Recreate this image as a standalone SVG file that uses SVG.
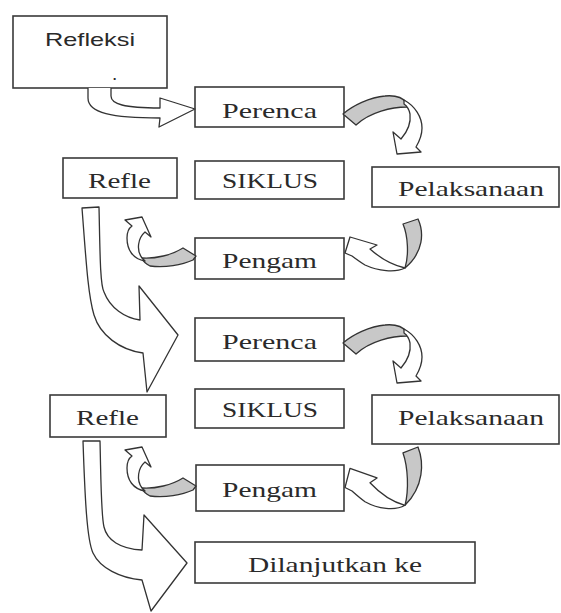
<svg xmlns="http://www.w3.org/2000/svg" width="561" height="613" viewBox="0 0 561 613">
<style>
.box{fill:#fff;stroke:#3a3a3a;stroke-width:1.6}
.t{font-family:"Liberation Serif","Times New Roman",serif;font-size:22px;fill:#2a2a2a}
.s{font-family:"Liberation Sans",Arial,sans-serif;font-size:19px;fill:#2a2a2a}
.ar{fill:#fff;stroke:#333;stroke-width:1.3;stroke-linejoin:round;vector-effect:non-scaling-stroke}
.gr{fill:#c8c8c8;stroke:#333;stroke-width:1.3;stroke-linejoin:round;vector-effect:non-scaling-stroke}
</style>
<defs>
<g id="curveA">
<path class="gr" d="M343,114 C352,106 370,97 385,96 C395,95 403,98 407,103 L407,107 C392,107 370,112 356,125 Z"/>
<path class="ar" d="M404,100 C415,106 422,117 422,128 C422,136 419,142 416,147 L421,152 L397,154 L393,132 L401,139 C408,131 411,122 410,114 C409,109 407,106 404,104 Z"/>
</g>
<g id="curveB">
<path class="gr" d="M403,224 L418,219 C424,232 424,252 405,268 C409,255 408,236 403,224 Z"/>
<path class="ar" d="M345,253 L350,237 L377,245 L370,249 C380,258 392,265 405,268 C395,273 378,271 365,265 C360,262 356,259 352,256 Z"/>
</g>
<g id="curveC">
<path class="gr" d="M183,248 L196,256 L193,260 C182,265 165,268 150,266 C146,264 143,261 142,258 C155,259 172,255 183,248 Z"/>
<path class="ar" d="M125,220 L142,217 L151,237 L145,232 C138,238 136,250 142,258 L145,261 C133,259 127,250 127,238 C127,232 129,228 132,226 Z"/>
</g>
</defs>
<g id="n-refleksi">
<rect class="box" x="13" y="16" width="154" height="72"/>
<text class="s" x="45" y="46" textLength="90" lengthAdjust="spacingAndGlyphs">Refleksi</text>
<text class="s" x="112" y="80" font-size="10">.</text>
</g>
<g id="n-perenca1">
<rect class="box" x="195" y="87" width="149" height="40"/>
<text class="t" x="222" y="118" textLength="95" lengthAdjust="spacingAndGlyphs">Perenca</text>
</g>
<g id="n-siklus1">
<rect class="box" x="195" y="161" width="149" height="38"/>
<text class="t" x="222" y="188" textLength="96" lengthAdjust="spacingAndGlyphs">SIKLUS</text>
</g>
<g id="n-pelaksanaan1">
<rect class="box" x="372" y="167" width="187" height="40"/>
<text class="t" x="398" y="196" textLength="146" lengthAdjust="spacingAndGlyphs">Pelaksanaan</text>
</g>
<g id="n-pengam1">
<rect class="box" x="195" y="238" width="149" height="41"/>
<text class="t" x="222" y="268" textLength="95" lengthAdjust="spacingAndGlyphs">Pengam</text>
</g>
<g id="n-refle1">
<rect class="box" x="63" y="158" width="114" height="40"/>
<text class="t" x="88" y="188" textLength="63" lengthAdjust="spacingAndGlyphs">Refle</text>
</g>
<g id="n-perenca2">
<rect class="box" x="195" y="318" width="149" height="43"/>
<text class="t" x="222" y="349" textLength="95" lengthAdjust="spacingAndGlyphs">Perenca</text>
</g>
<g id="n-siklus2">
<rect class="box" x="195" y="389" width="149" height="39"/>
<text class="t" x="222" y="417" textLength="96" lengthAdjust="spacingAndGlyphs">SIKLUS</text>
</g>
<g id="n-pelaksanaan2">
<rect class="box" x="372" y="395" width="187" height="49"/>
<text class="t" x="398" y="425" textLength="146" lengthAdjust="spacingAndGlyphs">Pelaksanaan</text>
</g>
<g id="n-pengam2">
<rect class="box" x="196" y="465" width="148" height="46"/>
<text class="t" x="222" y="497" textLength="95" lengthAdjust="spacingAndGlyphs">Pengam</text>
</g>
<g id="n-refle2">
<rect class="box" x="50" y="395" width="116" height="42"/>
<text class="t" x="76" y="425" textLength="63" lengthAdjust="spacingAndGlyphs">Refle</text>
</g>
<g id="n-dilanjutkan">
<rect class="box" x="195" y="542" width="280" height="41"/>
<text class="t" x="248" y="572" textLength="174" lengthAdjust="spacingAndGlyphs">Dilanjutkan ke</text>
</g>
<g id="connectors">
<path class="ar" d="M88,88 L88,98 C88,113 112,118 160,118 L159,127 L195,109 L160,98 L160,108 C124,108 111,104 111,96 L111,88"/>
<path class="ar" d="M82,208 L99,207 C100,250 100,285 104,292 C110,308 125,318 140,320 L139,286 L178,335 L147,392 L143,353 C120,350 100,335 94,315 C88,295 86,260 82,208 Z"/>
<path class="ar" d="M83,441 L100,441 C101,480 101,515 104,527 C107,540 120,549 142,550 L144,515 L187,563 L151,611 L142,580 C120,578 100,568 93,553 C87,540 85,500 83,441 Z"/>
<use href="#curveA"/>
<use href="#curveB"/>
<use href="#curveC"/>
<use href="#curveA" transform="translate(0,229)"/>
<use href="#curveB" transform="translate(0,447) scale(1,1.19) translate(0,-219)"/>
<use href="#curveC" transform="translate(0,230)"/>
</g>
</svg>
